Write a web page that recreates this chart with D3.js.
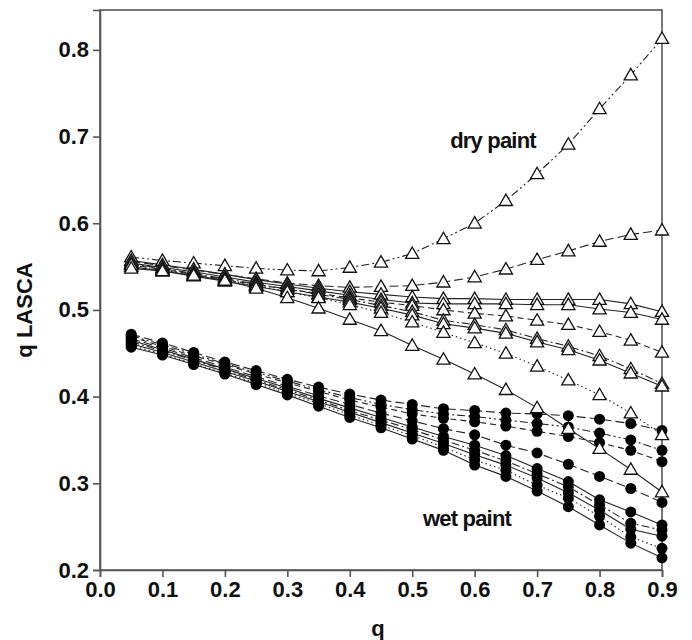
<!DOCTYPE html>
<html>
<head>
<meta charset="utf-8">
<script src="https://cdn.jsdelivr.net/npm/d3@7"></script>
<style>
  html, body { margin: 0; padding: 0; background: #fff; }
  svg { display: block; font-family: "Liberation Sans", Arial, sans-serif; }
</style>
</head>
<body>
<svg id="chart" width="692" height="640"></svg>
<script>
// q values sampled along the x axis
const qValues = [0.05,0.10,0.15,0.20,0.25,0.30,0.35,0.40,0.45,0.50,0.55,0.60,0.65,0.70,0.75,0.80,0.85,0.90];

// Axis ticks
const xTicks = [0.0,0.1,0.2,0.3,0.4,0.5,0.6,0.7,0.8,0.9];
const yTicks = [0.2,0.3,0.4,0.5,0.6,0.7,0.8];

// Dry paint series (open triangles)
const dry1 = [0.561,0.557,0.554,0.551,0.548,0.546,0.545,0.549,0.555,0.565,0.582,0.600,0.626,0.657,0.691,0.732,0.771,0.813];
const dry2 = [0.556,0.551,0.546,0.541,0.536,0.531,0.528,0.526,0.527,0.528,0.532,0.538,0.547,0.558,0.568,0.579,0.587,0.592];
const dry3 = [0.557,0.552,0.547,0.541,0.535,0.530,0.525,0.521,0.518,0.515,0.513,0.513,0.512,0.512,0.512,0.512,0.507,0.498];
const dry4 = [0.554,0.549,0.544,0.538,0.532,0.527,0.522,0.517,0.512,0.508,0.507,0.507,0.507,0.506,0.506,0.501,0.497,0.489];
const dry5 = [0.552,0.547,0.541,0.535,0.529,0.524,0.519,0.514,0.509,0.505,0.500,0.496,0.493,0.488,0.483,0.475,0.465,0.451];
const dry6 = [0.553,0.548,0.542,0.536,0.530,0.524,0.518,0.512,0.505,0.498,0.488,0.483,0.477,0.467,0.458,0.447,0.432,0.415];
const dry7 = [0.550,0.545,0.539,0.533,0.527,0.521,0.515,0.509,0.502,0.494,0.484,0.479,0.473,0.463,0.454,0.442,0.427,0.412];
const dry8 = [0.552,0.546,0.540,0.534,0.528,0.521,0.514,0.506,0.497,0.486,0.474,0.462,0.450,0.435,0.419,0.402,0.381,0.356];
const dry9 = [0.548,0.545,0.540,0.534,0.525,0.514,0.502,0.489,0.476,0.459,0.443,0.426,0.408,0.387,0.363,0.340,0.316,0.290];

// Wet paint series (filled circles)
const wet1 = [0.472,0.462,0.451,0.440,0.430,0.420,0.411,0.403,0.396,0.391,0.386,0.384,0.381,0.380,0.378,0.374,0.369,0.361];
const wet2 = [0.470,0.460,0.449,0.438,0.428,0.418,0.408,0.399,0.391,0.385,0.380,0.377,0.373,0.369,0.365,0.358,0.350,0.338];
const wet3 = [0.469,0.458,0.447,0.437,0.426,0.416,0.406,0.396,0.388,0.380,0.375,0.371,0.366,0.360,0.354,0.347,0.338,0.325];
const wet4 = [0.467,0.456,0.445,0.434,0.423,0.412,0.401,0.391,0.381,0.372,0.363,0.356,0.344,0.335,0.322,0.308,0.294,0.278];
const wet5 = [0.465,0.454,0.443,0.432,0.421,0.410,0.398,0.387,0.376,0.365,0.354,0.344,0.332,0.317,0.302,0.281,0.267,0.252];
const wet6 = [0.463,0.453,0.442,0.431,0.419,0.408,0.396,0.384,0.373,0.362,0.350,0.338,0.326,0.311,0.296,0.275,0.254,0.246];
const wet7 = [0.461,0.451,0.440,0.429,0.418,0.406,0.394,0.382,0.370,0.358,0.346,0.333,0.321,0.306,0.289,0.269,0.247,0.239];
const wet8 = [0.459,0.449,0.438,0.427,0.416,0.404,0.392,0.379,0.367,0.355,0.342,0.327,0.315,0.298,0.283,0.262,0.238,0.225];
const wet9 = [0.457,0.448,0.437,0.426,0.414,0.402,0.389,0.376,0.364,0.351,0.338,0.321,0.308,0.291,0.273,0.252,0.231,0.214];

// Line dash styles
const DASH = {
  solid: null,
  longdash: "9,4",
  dash: "6,4",
  dot: "1.5,3",
  dashdot: "8,3,2,3",
  dashdotdot: "8,3,2,3,2,3"
};

const drySeries = [
  { values: dry1, dash: DASH.dashdotdot },
  { values: dry2, dash: DASH.longdash },
  { values: dry3, dash: DASH.solid },
  { values: dry4, dash: DASH.solid },
  { values: dry5, dash: DASH.dash },
  { values: dry6, dash: DASH.dashdot },
  { values: dry7, dash: DASH.solid },
  { values: dry8, dash: DASH.dot },
  { values: dry9, dash: DASH.solid }
];
const wetSeries = [
  { values: wet1, dash: DASH.longdash },
  { values: wet2, dash: DASH.dashdotdot },
  { values: wet3, dash: DASH.dash },
  { values: wet4, dash: DASH.longdash },
  { values: wet5, dash: DASH.solid },
  { values: wet6, dash: DASH.dashdot },
  { values: wet7, dash: DASH.solid },
  { values: wet8, dash: DASH.dot },
  { values: wet9, dash: DASH.solid }
];

const svg = d3.select("#chart");
const plotLeft = 100, plotRight = 662, plotTop = 10, plotBottom = 570;

const x = d3.scaleLinear().domain([0, 0.9]).range([plotLeft, plotRight]);
const y = d3.scaleLinear().domain([0.2, 0.846]).range([plotBottom, plotTop]);

const axisColor = "#555";

// Frame
svg.append("rect")
  .attr("x", plotLeft).attr("y", plotTop)
  .attr("width", plotRight - plotLeft).attr("height", plotBottom - plotTop)
  .attr("fill", "none").attr("stroke", axisColor).attr("stroke-width", 1.6);

// Axes
const xAxis = svg.append("g")
  .attr("transform", `translate(0,${plotBottom})`)
  .call(d3.axisBottom(x).tickValues(xTicks).tickFormat(d3.format(".1f")).tickSize(7).tickPadding(4));
const yAxis = svg.append("g")
  .attr("transform", `translate(${plotLeft},0)`)
  .call(d3.axisLeft(y).tickValues(yTicks).tickFormat(d3.format(".1f")).tickSize(7).tickPadding(4));

[xAxis, yAxis].forEach(g => {
  g.select(".domain").attr("stroke", axisColor).attr("stroke-width", 1.6);
  g.selectAll(".tick line").attr("stroke", axisColor).attr("stroke-width", 1.6);
  g.selectAll(".tick text")
    .attr("fill", "#111")
    .style("font-size", "22px")
    .style("font-weight", "bold")
    .style("font-family", "'Liberation Sans', Arial, sans-serif");
});

// Axis titles
svg.append("text")
  .attr("x", (plotLeft + plotRight) / 2 - 3).attr("y", 636)
  .attr("text-anchor", "middle")
  .style("font-size", "22px").style("font-weight", "bold").attr("fill", "#111")
  .text("q");
svg.append("text")
  .attr("transform", `translate(32,310) rotate(-90)`)
  .attr("text-anchor", "middle")
  .style("font-size", "22px").style("font-weight", "bold").attr("fill", "#111")
  .text("q LASCA");

const line = d3.line()
  .x((d, i) => x(qValues[i]))
  .y(d => y(d));

function drawLines(series) {
  svg.append("g").selectAll("path").data(series).join("path")
    .attr("d", s => line(s.values))
    .attr("fill", "none")
    .attr("stroke", "#222")
    .attr("stroke-width", 1.1)
    .attr("stroke-dasharray", s => s.dash);
}

// Wet paint: lines then filled circles
drawLines(wetSeries);
const wetPts = wetSeries.flatMap(s => s.values.map((v, i) => ({ q: qValues[i], v })));
svg.append("g").selectAll("circle").data(wetPts).join("circle")
  .attr("cx", d => x(d.q)).attr("cy", d => y(d.v))
  .attr("r", 5.5).attr("fill", "#000");

// Dry paint: lines then open triangles
drawLines(drySeries);
const dryPts = drySeries.flatMap(s => s.values.map((v, i) => ({ q: qValues[i], v })));
const tri = d3.symbol().type(d3.symbolTriangle).size(75);
svg.append("g").selectAll("path").data(dryPts).join("path")
  .attr("d", tri)
  .attr("transform", d => `translate(${x(d.q)},${y(d.v) + 1})`)
  .attr("fill", "#fff").attr("stroke", "#111").attr("stroke-width", 1.3);

// Annotations
svg.append("text")
  .attr("x", 493).attr("y", 148)
  .attr("text-anchor", "middle")
  .style("font-size", "22px").style("font-weight", "bold").style("letter-spacing", "-0.8px").attr("fill", "#111")
  .text("dry paint");
svg.append("text")
  .attr("x", 467).attr("y", 526)
  .attr("text-anchor", "middle")
  .style("font-size", "22px").style("font-weight", "bold").style("letter-spacing", "-0.8px").attr("fill", "#111")
  .text("wet paint");
</script>
</body>
</html>
